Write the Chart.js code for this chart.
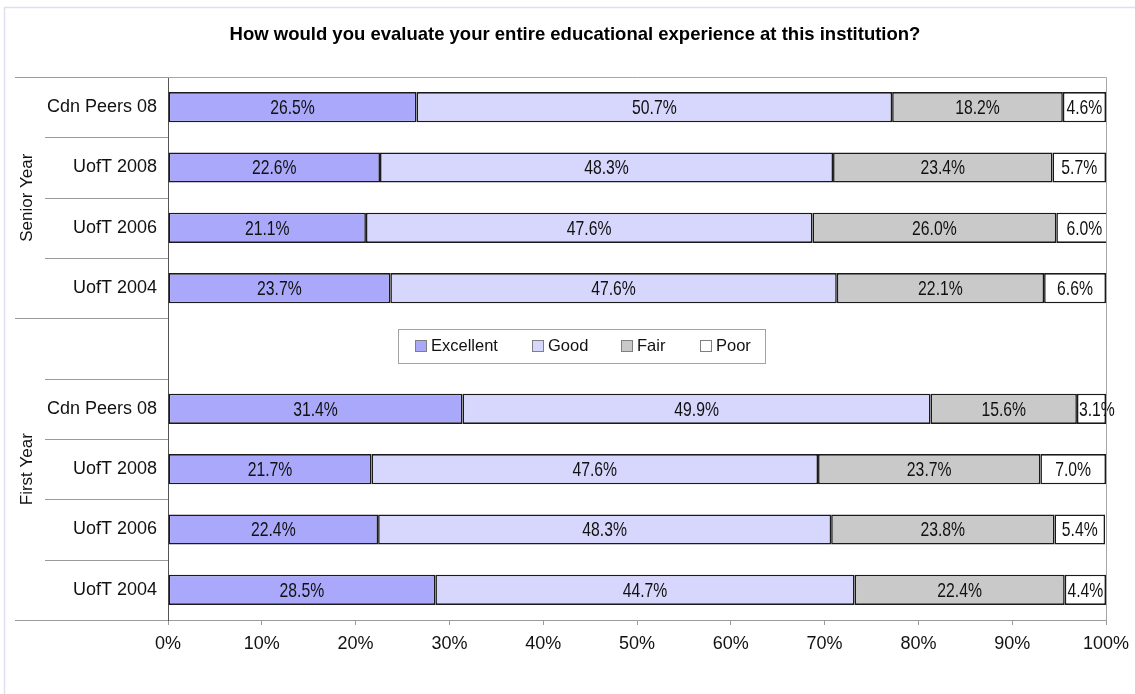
<!DOCTYPE html>
<html>
<head>
<meta charset="utf-8">
<script src="https://cdn.jsdelivr.net/npm/chart.js@4/dist/chart.umd.min.js"></script>
<style>
  html, body { margin: 0; padding: 0; background: #ffffff; }
  #wrap { position: relative; width: 1135px; height: 694px; }
</style>
</head>
<body>
<div id="wrap"><canvas id="c" width="1135" height="694"></canvas></div>
<script>
// ---------- data ----------
const titleText = 'How would you evaluate your entire educational experience at this institution?';
const categories = ['Cdn Peers 08', 'UofT 2008', 'UofT 2006', 'UofT 2004', '', 'Cdn Peers 08', 'UofT 2008', 'UofT 2006', 'UofT 2004'];
const seriesNames = ['Excellent', 'Good', 'Fair', 'Poor'];
const excellent = [26.5, 22.6, 21.1, 23.7, null, 31.4, 21.7, 22.4, 28.5];
const good      = [50.7, 48.3, 47.6, 47.6, null, 49.9, 47.6, 48.3, 44.7];
const fair      = [18.2, 23.4, 26.0, 22.1, null, 15.6, 23.7, 23.8, 22.4];
const poor      = [4.6, 5.7, 6.0, 6.6, null, 3.1, 7.0, 5.4, 4.4];
const groupNames = ['Senior Year', 'First Year'];
const groupStart = [0, 4];
const groupEnd   = [3, 8];
const xTicks = [0, 10, 20, 30, 40, 50, 60, 70, 80, 90, 100];

const seriesColors = ['#aaa8fa', '#d7d6fc', '#c9c9c9', '#ffffff'];
const seriesValues = [excellent, good, fair, poor];

const SANS = '"Liberation Sans", Arial, Helvetica, sans-serif';
const NARROW_SCALE = 0.75;

const decorPlugin = {
  id: 'decor',
  beforeDraw(chart) {
    const ctx = chart.ctx;
    ctx.save();
    ctx.fillStyle = '#ffffff';
    ctx.fillRect(0, 0, chart.width, chart.height);
    ctx.strokeStyle = '#dedff2';
    ctx.lineWidth = 1.5;
    ctx.beginPath();
    ctx.moveTo(4.5, chart.height);
    ctx.lineTo(4.5, 7.5);
    ctx.lineTo(chart.width, 7.5);
    ctx.stroke();
    ctx.restore();
  },
  afterDatasetsDraw(chart) {
    const ctx = chart.ctx;
    ctx.save();
    ctx.font = '21px ' + SANS;
    ctx.fillStyle = '#111111';
    ctx.textBaseline = 'middle';
    chart.data.datasets.forEach((ds, di) => {
      const meta = chart.getDatasetMeta(di);
      meta.data.forEach((bar, i) => {
        const v = ds.data[i];
        if (v === null || v === undefined) return;
        const txt = v.toFixed(1) + '%';
        const w = ctx.measureText(txt).width * NARROW_SCALE;
        const left = Math.min(bar.x, bar.base);
        const right = Math.max(bar.x, bar.base);
        let tx;
        if (w > right - left - 3) {
          tx = left + 2;
        } else {
          tx = (left + right) / 2 - w / 2;
        }
        ctx.save();
        ctx.translate(tx, bar.y + 1);
        ctx.scale(NARROW_SCALE, 1);
        ctx.textAlign = 'left';
        ctx.fillText(txt, 0, 0);
        ctx.restore();
      });
    });
    ctx.restore();
  },
  afterDraw(chart) {
    const ctx = chart.ctx;
    const ca = chart.chartArea;
    const y = chart.scales.y;
    ctx.save();
    // plot box (top / right)
    ctx.strokeStyle = '#a6a6a6';
    ctx.lineWidth = 1;
    ctx.beginPath();
    ctx.moveTo(ca.left, ca.top + 0.5);
    ctx.lineTo(ca.right + 0.5, ca.top + 0.5);
    ctx.lineTo(ca.right + 0.5, ca.bottom);
    ctx.stroke();
    // category separators
    const n = categories.length;
    const step = (y.getPixelForValue(1) - y.getPixelForValue(0));
    for (let k = 0; k <= n; k++) {
      const py = Math.round(y.getPixelForValue(0) + (k - 0.5) * step) + 0.5;
      const isGroup = groupStart.includes(k) || k === n;
      const x0 = isGroup ? 15 : 45;
      ctx.strokeStyle = '#9a9a9a';
      ctx.beginPath();
      ctx.moveTo(x0, py);
      ctx.lineTo(ca.left, py);
      ctx.stroke();
    }
    // group labels
    ctx.fillStyle = '#111111';
    ctx.font = '17px ' + SANS;
    ctx.textAlign = 'center';
    ctx.textBaseline = 'middle';
    groupNames.forEach((g, gi) => {
      const y0 = y.getPixelForValue(groupStart[gi]) - step / 2;
      const y1 = y.getPixelForValue(groupEnd[gi]) + step / 2;
      ctx.save();
      ctx.translate(27, (y0 + y1) / 2);
      ctx.rotate(-Math.PI / 2);
      ctx.fillText(g, 0, 0);
      ctx.restore();
    });
    // legend inside the empty row
    const cy = y.getPixelForValue(4) - 3;
    ctx.strokeStyle = '#a3a3a3';
    ctx.lineWidth = 1;
    ctx.strokeRect(398.5, Math.round(cy - 17) + 0.5, 367, 34);
    const swX = [415, 532, 621, 700];
    ctx.font = '16.5px ' + SANS;
    ctx.textAlign = 'left';
    chart.data.datasets.forEach((ds, di) => {
      ctx.fillStyle = ds.backgroundColor;
      ctx.fillRect(swX[di], Math.round(cy - 6), 12, 12);
      ctx.strokeStyle = '#7f7f7f';
      ctx.strokeRect(swX[di] + 0.5, Math.round(cy - 6) + 0.5, 11, 11);
      ctx.fillStyle = '#111111';
      ctx.fillText(ds.label, swX[di] + 16, cy + 1);
    });
    // title
    ctx.font = 'bold 18.5px ' + SANS;
    ctx.textAlign = 'center';
    ctx.fillStyle = '#000000';
    ctx.fillText(titleText, 575, 35);
    ctx.restore();
  }
};

new Chart(document.getElementById('c'), {
  type: 'bar',
  data: {
    labels: categories,
    datasets: seriesNames.map((name, i) => ({
      label: name,
      data: seriesValues[i],
      backgroundColor: seriesColors[i],
      borderColor: '#1a1a1a',
      borderWidth: 1.6,
      borderSkipped: false,
      barPercentage: 0.5,
      categoryPercentage: 1.0
    }))
  },
  options: {
    indexAxis: 'y',
    responsive: false,
    animation: false,
    devicePixelRatio: 1,
    layout: { padding: { top: 77, right: 29, bottom: 0, left: 0 } },
    plugins: {
      legend: { display: false },
      title: { display: false },
      tooltip: { enabled: false }
    },
    scales: {
      x: {
        stacked: true,
        min: 0,
        max: 100,
        afterFit(scale) { scale.height = 74; scale.paddingRight = 0; scale.paddingLeft = 0; },
        afterBuildTicks(scale) { scale.ticks = xTicks.map(v => ({ value: v })); },
        grid: { drawOnChartArea: false, drawTicks: true, tickLength: 5, color: '#9a9a9a' },
        border: { color: '#9a9a9a', width: 1 },
        ticks: {
          padding: 8,
          color: '#111111',
          font: { family: SANS, size: 18 },
          callback: v => v + '%',
          maxRotation: 0
        }
      },
      y: {
        stacked: true,
        afterFit(scale) { scale.width = 168; },
        grid: { display: false, drawTicks: false },
        border: { color: '#555555', width: 1 },
        ticks: {
          padding: 11,
          color: '#111111',
          font: { family: SANS, size: 18 },
          autoSkip: false
        }
      }
    }
  },
  plugins: [decorPlugin]
});
</script>
</body>
</html>
